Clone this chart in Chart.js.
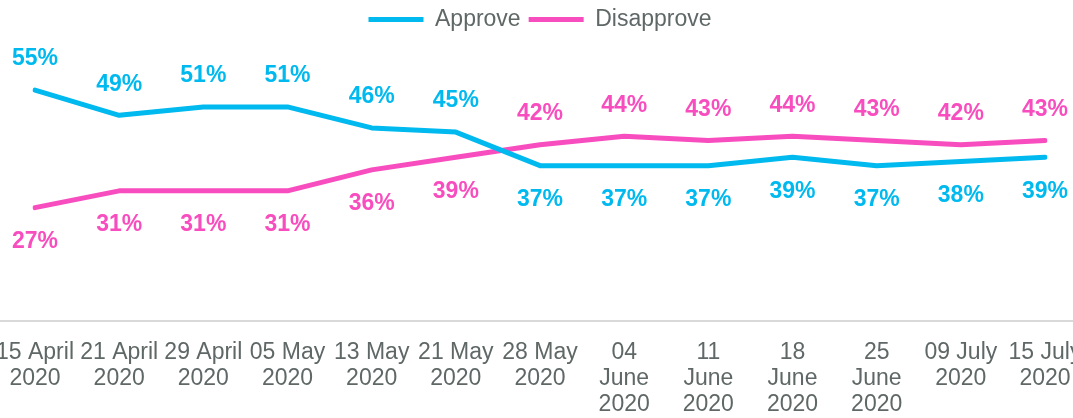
<!DOCTYPE html>
<html>
<head>
<meta charset="utf-8">
<script src="https://cdn.jsdelivr.net/npm/chart.js@4"></script>
<style>
  html, body { margin: 0; padding: 0; background: #fff; }
  #wrap { width: 1073px; height: 418px; position: relative; }
</style>
</head>
<body>
<div id="wrap"><canvas id="pollChart"></canvas></div>
<script>
// tick labels (multi-line as in the original)
const dateLabels = [
    ['15 April', '2020'], ['21 April', '2020'], ['29 April', '2020'], ['05 May', '2020'],
    ['13 May', '2020'], ['21 May', '2020'], ['28 May', '2020'], ['04', 'June', '2020'],
    ['11', 'June', '2020'], ['18', 'June', '2020'], ['25', 'June', '2020'],
    ['09 July', '2020'], ['15 July', '2020']
];
const approve    = [55, 49, 51, 51, 46, 45, 37, 37, 37, 39, 37, 38, 39];
const disapprove = [27, 31, 31, 31, 36, 39, 42, 44, 43, 44, 43, 42, 43];

const blue = '#00B9EF';
const pink = '#F84DBE';
const grey = '#5F6867';
const fontFam = '"Liberation Sans", Arial, sans-serif';

// value labels: above the line when this series is the higher one, below otherwise
const valueLabels = {
    id: 'valueLabels',
    afterDatasetsDraw(chart) {
        const ctx = chart.ctx;
        ctx.save();
        ctx.font = 'bold 23px ' + fontFam;
        ctx.textAlign = 'center';
        ctx.textBaseline = 'middle';
        chart.data.datasets.forEach((ds, i) => {
            const other = chart.data.datasets[1 - i].data;
            const meta = chart.getDatasetMeta(i);
            ctx.fillStyle = ds.borderColor;
            meta.data.forEach((pt, j) => {
                const above = ds.data[j] > other[j];
                const y = above ? pt.y - 31 : pt.y + 34;
                ctx.fillText(ds.data[j] + '%', pt.x, y);
            });
        });
        ctx.restore();
    }
};

// the category axis line runs across the whole width in the original
const baseLine = {
    id: 'baseLine',
    beforeDatasetsDraw(chart) {
        const ctx = chart.ctx;
        const y = chart.scales.x.top;
        ctx.save();
        ctx.strokeStyle = '#D9D9D9';
        ctx.lineWidth = 2;
        ctx.beginPath();
        ctx.moveTo(0, y);
        ctx.lineTo(chart.width, y);
        ctx.stroke();
        ctx.restore();
    }
};

const ctx = document.getElementById('pollChart');
new Chart(ctx, {
    type: 'line',
    data: {
        labels: dateLabels,
        datasets: [{
            label: 'Approve',
            data: approve,
            borderColor: blue,
            backgroundColor: blue,
            borderWidth: 5,
            borderCapStyle: 'round',
            borderJoinStyle: 'round',
            tension: 0,
            pointRadius: 0
        }, {
            label: 'Disapprove',
            data: disapprove,
            borderColor: pink,
            backgroundColor: pink,
            borderWidth: 5,
            borderCapStyle: 'round',
            borderJoinStyle: 'round',
            tension: 0,
            pointRadius: 0
        }]
    },
    options: {
        responsive: true,
        maintainAspectRatio: false,
        animation: false,
        layout: { padding: { left: 35, right: 28, top: 0, bottom: 0 } },
        plugins: {
            legend: {
                position: 'top',
                labels: {
                    usePointStyle: true,
                    pointStyle: 'line',
                    pointStyleWidth: 55,
                    color: grey,
                    padding: 8,
                    font: { family: fontFam, size: 23 }
                }
            },
            tooltip: { enabled: false }
        },
        scales: {
            x: {
                offset: false,
                grid: { display: false, drawTicks: false },
                border: { display: false },
                ticks: {
                    color: grey,
                    font: { family: fontFam, size: 23, lineHeight: 1.13 },
                    maxRotation: 0,
                    autoSkip: false,
                    padding: 19
                },
                afterFit(scale) {
                    // let the edge labels run off the canvas like the original
                    scale.paddingLeft = 0;
                    scale.paddingRight = 0;
                    scale.height = 97;
                }
            },
            y: {
                display: false,
                min: 0,
                max: 66.7
            }
        }
    },
    plugins: [baseLine, valueLabels]
});
</script>
</body>
</html>
